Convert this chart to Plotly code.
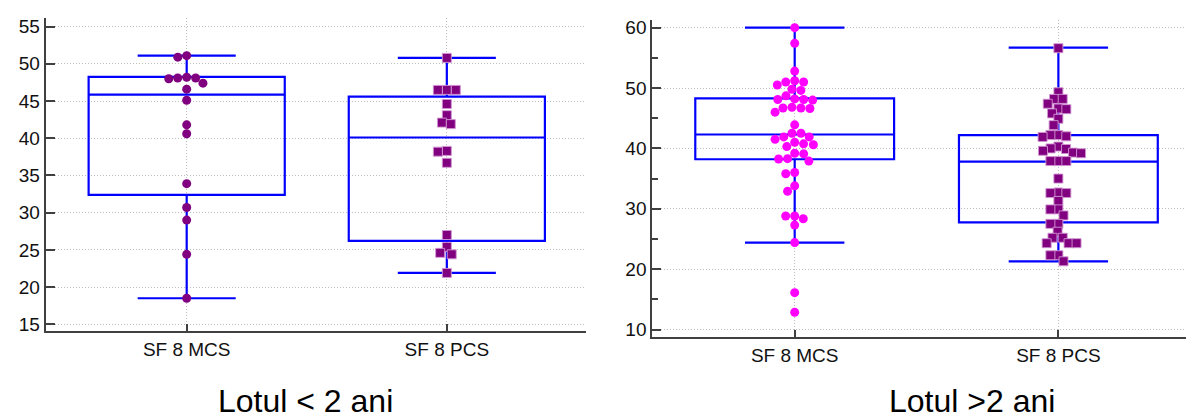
import math
import plotly.graph_objects as go

# ---- data -----------------------------------------------------------------
categories = ["SF 8 MCS", "SF 8 PCS"]
panel_titles = ["Lotul &lt; 2 ani", "Lotul &gt;2 ani"]

# group < 2 years
mcs_lt2 = [51.1, 50.9, 48.2, 48.1, 48.1, 48.0, 47.4, 46.6, 45.1, 41.8, 40.6,
           33.9, 30.7, 29.0, 24.4, 18.5]
pcs_lt2 = [50.8, 46.5, 46.5, 46.5, 44.6, 43.1, 42.1, 41.9, 38.3, 38.2, 36.7,
           27.0, 25.4, 24.6, 24.4, 21.9]
# box statistics: lower whisker, Q1, median, Q3, upper whisker
stats_mcs_lt2 = [18.5, 32.4, 45.85, 48.25, 51.1]
stats_pcs_lt2 = [21.9, 26.2, 40.1, 45.6, 50.8]

# group > 2 years
mcs_gt2 = [60.0, 57.4, 52.8, 51.2, 51.0, 51.0, 50.5, 49.8, 49.6, 48.7, 48.2,
           48.1, 48.1, 48.0, 46.8, 46.7, 46.7, 46.6, 46.0, 43.9, 42.5, 42.5,
           41.9, 41.9, 41.5, 41.0, 40.75, 40.6, 40.3, 39.2, 39.1, 38.3, 38.25,
           37.9, 36.0, 35.8, 33.8, 32.9, 28.8, 28.8, 28.35, 27.3, 24.4, 16.1,
           12.85]
pcs_gt2 = [56.6, 49.3, 48.2, 48.2, 47.4, 46.6, 46.5, 45.8, 44.9, 43.85, 42.2,
           42.2, 42.0, 41.9, 40.3, 40.0, 39.9, 39.6, 39.3, 39.2, 37.9, 37.9,
           37.9, 35.0, 32.7, 32.6, 32.6, 31.3, 29.9, 29.9, 28.9, 27.5, 27.5,
           26.2, 25.2, 25.2, 24.3, 24.3, 24.3, 22.3, 22.3, 21.3]
stats_mcs_gt2 = [24.4, 38.2, 42.3, 48.3, 60.0]
stats_pcs_gt2 = [21.3, 27.75, 37.8, 42.2, 56.7]

# ---- layout geometry --------------------------------------------------------
W, H = 1186, 419
left_dom_x = [45.7 / W, 586 / W]
right_dom_x = [652.3 / W, 1.0]
left_dom_y = [(H - 334) / H, (H - 16) / H]
right_dom_y = [(H - 340) / H, (H - 18) / H]
left_xr, right_xr = [-0.542, 1.535], [-0.540, 1.484]
left_yr, right_yr = [14.07, 56.19], [8.74, 61.31]


def px_scale(dom, rng, total):
    return (dom[1] - dom[0]) * total / (rng[1] - rng[0])


def swarm(values, ppx, ppy, diam):
    """Beeswarm offsets (in x data units) so markers don't overlap."""
    placed = []
    offs = [0.0] * len(values)
    order = sorted(range(len(values)), key=lambda i: -values[i])
    for i in order:
        y = values[i] * ppy
        cands = [0.0]
        for px, py in placed:
            dy = abs(y - py)
            if dy < diam:
                dx = math.sqrt(diam * diam - dy * dy)
                cands += [px + dx, px - dx]
        cands.sort(key=lambda c: (abs(c), c))
        for c in cands:
            if all((c - px) ** 2 + (y - py) ** 2 >= diam * diam - 1e-6
                   for px, py in placed):
                break
        placed.append((c, y))
        offs[i] = c / ppx
    return offs


BLUE = "#0000ff"
PURPLE = "#800080"
MAGENTA = "#ff00ff"
FONT = "Liberation Sans, Arial, sans-serif"

fig = go.Figure()


def add_box(xpos, st, xa, ya):
    fig.add_trace(go.Box(
        x=[xpos], lowerfence=[st[0]], q1=[st[1]], median=[st[2]],
        q3=[st[3]], upperfence=[st[4]], width=0.754, whiskerwidth=0.5,
        boxpoints=False, fillcolor="rgba(0,0,0,0)",
        line=dict(color=BLUE, width=2.2), xaxis=xa, yaxis=ya,
        showlegend=False, hoverinfo="skip"))


def add_points(xpos, vals, xa, ya, ppx, ppy, symbol, color, size, diam, lc, lw):
    offs = swarm(vals, ppx, ppy, diam)
    fig.add_trace(go.Scatter(
        x=[xpos + o for o in offs], y=vals, mode="markers",
        marker=dict(symbol=symbol, color=color, size=size,
                    line=dict(color=lc, width=lw)),
        xaxis=xa, yaxis=ya, showlegend=False))


ppx_l = px_scale(left_dom_x, left_xr, W)
ppy_l = px_scale(left_dom_y, left_yr, H)
ppx_r = px_scale(right_dom_x, right_xr, W)
ppy_r = px_scale(right_dom_y, right_yr, H)

add_box(0, stats_mcs_lt2, "x", "y")
add_box(1, stats_pcs_lt2, "x", "y")
add_box(0, stats_mcs_gt2, "x2", "y2")
add_box(1, stats_pcs_gt2, "x2", "y2")

add_points(0, mcs_lt2, "x", "y", ppx_l, ppy_l, "circle", PURPLE, 9, 9,
           PURPLE, 0)
add_points(1, pcs_lt2, "x", "y", ppx_l, ppy_l, "square", PURPLE, 9, 9,
           "rgba(210,150,210,0.9)", 1)
add_points(0, mcs_gt2, "x2", "y2", ppx_r, ppy_r, "circle", MAGENTA, 9, 9,
           MAGENTA, 0)
add_points(1, pcs_gt2, "x2", "y2", ppx_r, ppy_r, "square", PURPLE, 9, 8,
           "rgba(210,150,210,0.9)", 1)

axis_common = dict(showline=True, linecolor="#404040", linewidth=2,
                   ticks="inside", tickcolor="#404040", tickwidth=1.5,
                   showgrid=True, gridcolor="#bdbdbd", griddash="1px,2px",
                   gridwidth=1, zeroline=False, mirror=False,
                   tickfont=dict(family=FONT, size=19, color="#111111"))

fig.update_layout(
    width=W, height=H, margin=dict(l=0, r=0, t=0, b=0),
    paper_bgcolor="white", plot_bgcolor="white",
    xaxis=dict(axis_common, domain=left_dom_x, range=left_xr, anchor="y",
               tickvals=[0, 1], ticktext=categories, ticklen=7),
    yaxis=dict(axis_common, domain=left_dom_y, range=left_yr, anchor="x",
               tickvals=[15, 20, 25, 30, 35, 40, 45, 50, 55], ticklen=9),
    xaxis2=dict(axis_common, domain=right_dom_x, range=right_xr,
                anchor="y2", tickvals=[0, 1], ticktext=categories,
                ticklen=7),
    yaxis2=dict(axis_common, domain=right_dom_y, range=right_yr,
                anchor="x2", tickvals=[10, 20, 30, 40, 50, 60], ticklen=9,
                minor=dict(ticks="inside", tickvals=[15, 25, 35, 45, 55],
                           ticklen=6, tickcolor="#404040", showgrid=False)),
    annotations=[
        dict(text=panel_titles[0], x=305 / W, y=(H - 405) / H,
             xref="paper", yref="paper", showarrow=False,
             font=dict(family=FONT, size=32, color="#000000"),
             xanchor="center", yanchor="middle"),
        dict(text=panel_titles[1], x=972 / W, y=(H - 405) / H,
             xref="paper", yref="paper", showarrow=False,
             font=dict(family=FONT, size=32, color="#000000"),
             xanchor="center", yanchor="middle"),
    ],
)

fig.write_html("out.html")
